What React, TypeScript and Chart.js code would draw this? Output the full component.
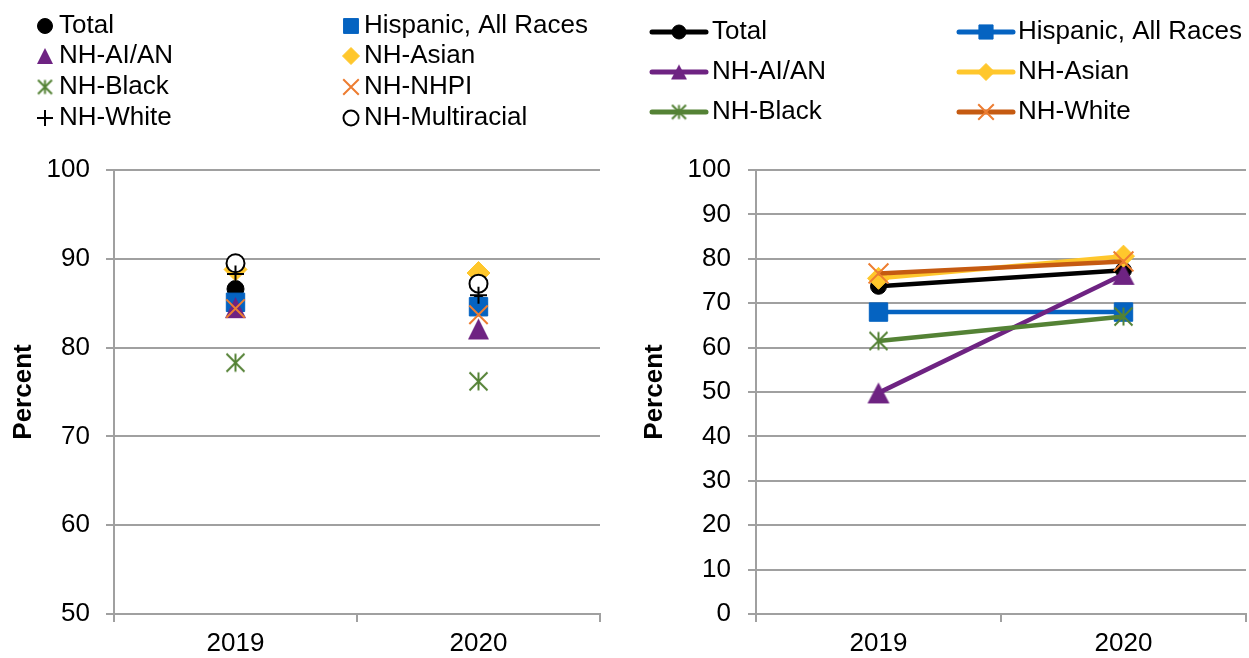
import React, { useEffect, useRef } from 'react';
import { Chart, registerables } from 'chart.js';
import { drawPoint } from 'chart.js/helpers';

Chart.register(...registerables);

// ---------- data ----------
const years = ['2019', '2020'];

// left panel (y axis 50–100)
const leftTotal = [86.6, 84.9];
const leftHispanic = [85.1, 84.6];
const leftAIAN = [84.5, 82.1];
const leftAsian = [88.8, 88.4];
const leftBlack = [78.3, 76.2];
const leftNHPI = [84.4, 83.7];
const leftWhite = [88.3, 85.9];
const leftMulti = [89.5, 87.2];

// right panel (y axis 0–100)
const rightTotal = [73.8, 77.4];
const rightHispanic = [68.0, 68.0];
const rightAIAN = [49.8, 76.5];
const rightAsian = [75.6, 80.6];
const rightBlack = [61.5, 67.0];
const rightWhite = [76.7, 79.4];

const leftLabels = ['Total', 'Hispanic, All Races', 'NH-AI/AN', 'NH-Asian', 'NH-Black', 'NH-NHPI', 'NH-White', 'NH-Multiracial'];
const rightLabels = ['Total', 'Hispanic, All Races', 'NH-AI/AN', 'NH-Asian', 'NH-Black', 'NH-White'];

// ---------- styling ----------
const W = 1249;
const H = 658;
const FONT = "'Liberation Sans', Arial, sans-serif";
const GRID = '#a0a0a0';
const BLACK = '#000000';
const BLUE = '#0563C1';
const PURPLE = '#6E2382';
const GOLD = '#FFC72C';
const GREEN = '#548235';
const ORANGE = '#ED7D31';
const DKORANGE = '#C55A11';

Chart.defaults.font.family = FONT;
Chart.defaults.color = '#000';

function makeAsterisk(size: number, color: string, lw: number) {
  const c = document.createElement('canvas');
  c.width = size;
  c.height = size;
  const g = c.getContext('2d')!;
  g.strokeStyle = color;
  g.lineWidth = lw;
  const m = size / 2;
  const a = size / 2 - 1.5;
  g.beginPath();
  g.moveTo(m, m - a);
  g.lineTo(m, m + a);
  g.moveTo(m - a, m - a);
  g.lineTo(m + a, m + a);
  g.moveTo(m + a, m - a);
  g.lineTo(m - a, m + a);
  g.stroke();
  return c;
}

// triangle whose bounding box is centred on the point (as in the source chart)
function makeTriangle(w: number, h: number, color: string) {
  const c = document.createElement('canvas');
  c.width = w + 2;
  c.height = h + 2;
  const g = c.getContext('2d')!;
  g.fillStyle = color;
  g.beginPath();
  g.moveTo(c.width / 2, 1);
  g.lineTo(c.width - 1, c.height - 1);
  g.lineTo(1, c.height - 1);
  g.closePath();
  g.fill();
  return c;
}

type Mk = { style: any; r: number; bg: string; border: string; bw: number; line?: string };

function legendPlugin(id: string, labels: string[], marks: Mk[], pos: { mx: number; tx: number; y: number }[], lineLen: number) {
  return {
    id,
    afterDraw(chart: any) {
      const ctx = chart.ctx as CanvasRenderingContext2D;
      ctx.save();
      ctx.font = `26px ${FONT}`;
      ctx.textBaseline = 'middle';
      ctx.textAlign = 'left';
      labels.forEach((label, i) => {
        const p = pos[i];
        const m = marks[i];
        if (m.line) {
          ctx.save();
          ctx.strokeStyle = m.line;
          ctx.lineWidth = 5;
          ctx.lineCap = 'round';
          ctx.beginPath();
          ctx.moveTo(p.mx - lineLen / 2, p.y);
          ctx.lineTo(p.mx + lineLen / 2, p.y);
          ctx.stroke();
          ctx.restore();
        }
        ctx.save();
        ctx.fillStyle = m.bg;
        ctx.strokeStyle = m.border;
        ctx.lineWidth = m.bw;
        drawPoint(ctx, { pointStyle: m.style, rotation: 0, radius: m.r, borderWidth: m.bw } as any, p.mx, p.y);
        ctx.restore();
        ctx.fillStyle = '#000';
        ctx.fillText(label, p.tx, p.y);
      });
      ctx.restore();
    },
  };
}

function axes(min: number, yWidth: number, yPad: number, titlePad: number) {
  return {
    x: {
      type: 'category',
      offset: true,
      afterFit: (s: any) => {
        s.height = 44;
        s.paddingLeft = 0;
        s.paddingRight = 0;
      },
      grid: { display: true, drawOnChartArea: false, drawTicks: true, tickLength: 8, offset: true, color: GRID, lineWidth: 2 },
      border: { display: true, color: GRID, width: 2 },
      ticks: { font: { size: 26 }, color: '#000', padding: 6, maxRotation: 0 },
    },
    y: {
      min,
      max: 100,
      afterFit: (s: any) => {
        s.width = yWidth;
      },
      ticks: { stepSize: 10, font: { size: 26 }, color: '#000', padding: yPad },
      grid: { color: GRID, lineWidth: 2, tickLength: 8, drawTicks: true },
      border: { display: true, color: GRID, width: 2 },
      title: { display: true, text: 'Percent', font: { size: 26, weight: 'bold' }, color: '#000', padding: { top: titlePad, bottom: 0 } },
    },
  };
}

function leftConfig(): any {
  const star = makeAsterisk(21, GREEN, 2);
  const starL = makeAsterisk(17, GREEN, 2);
  const tri = makeTriangle(21, 21, PURPLE);
  const triL = makeTriangle(16, 16, PURPLE);
  const values = [leftTotal, leftHispanic, leftAIAN, leftAsian, leftBlack, leftNHPI, leftWhite, leftMulti];
  const marks: Mk[] = [
    { style: 'circle', r: 8.5, bg: BLACK, border: BLACK, bw: 1 },
    { style: 'rect', r: 13, bg: BLUE, border: BLUE, bw: 1 },
    { style: tri, r: 11, bg: PURPLE, border: PURPLE, bw: 1 },
    { style: 'rectRot', r: 11.5, bg: GOLD, border: GOLD, bw: 1 },
    { style: star, r: 10, bg: GREEN, border: GREEN, bw: 2 },
    { style: 'crossRot', r: 13, bg: ORANGE, border: ORANGE, bw: 2 },
    { style: 'cross', r: 8.5, bg: BLACK, border: BLACK, bw: 2 },
    { style: 'circle', r: 9, bg: '#ffffff', border: BLACK, bw: 2 },
  ];
  const legendMarks: Mk[] = [
    { style: 'circle', r: 7.5, bg: BLACK, border: BLACK, bw: 1 },
    { style: 'rect', r: 10.5, bg: BLUE, border: BLUE, bw: 1 },
    { style: triL, r: 8, bg: PURPLE, border: PURPLE, bw: 1 },
    { style: 'rectRot', r: 8.5, bg: GOLD, border: GOLD, bw: 1 },
    { style: starL, r: 8, bg: GREEN, border: GREEN, bw: 2 },
    { style: 'crossRot', r: 11, bg: ORANGE, border: ORANGE, bw: 2 },
    { style: 'cross', r: 8, bg: BLACK, border: BLACK, bw: 2 },
    { style: 'circle', r: 7.5, bg: '#ffffff', border: BLACK, bw: 2 },
  ];
  const drawOrder = [0, 1, 2, 3, 4, 5, 7, 6];
  const rows = [25, 55, 86, 117];
  const pos = leftLabels.map((_, i) => {
    const col = i % 2;
    const row = Math.floor(i / 2);
    return { mx: col === 0 ? 45 : 351, tx: col === 0 ? 59 : 364, y: rows[row] + 1 };
  });
  return {
    type: 'line',
    data: {
      labels: years,
      datasets: leftLabels.map((label, i) => ({
        label,
        data: values[i],
        showLine: false,
        pointStyle: marks[i].style,
        pointRadius: marks[i].r,
        pointHoverRadius: marks[i].r,
        pointBackgroundColor: marks[i].bg,
        pointBorderColor: marks[i].border,
        pointBorderWidth: marks[i].bw,
        borderColor: marks[i].border,
        backgroundColor: marks[i].bg,
        order: leftLabels.length - drawOrder.indexOf(i),
        clip: false,
      })),
    },
    options: {
      responsive: false,
      animation: false,
      devicePixelRatio: 1,
      layout: { autoPadding: false, padding: { top: 170, right: 25, bottom: 0, left: 0 } },
      plugins: { legend: { display: false }, tooltip: { enabled: false } },
      scales: axes(50, 114, 16, 8),
    },
    plugins: [legendPlugin('leftLegend', leftLabels, legendMarks, pos, 0)],
  };
}

function rightConfig(): any {
  const star = makeAsterisk(21, GREEN, 2);
  const starL = makeAsterisk(17, GREEN, 2);
  const tri = makeTriangle(22, 21, PURPLE);
  const triL = makeTriangle(16, 15, PURPLE);
  const values = [rightTotal, rightHispanic, rightAIAN, rightAsian, rightBlack, rightWhite];
  const lines = [BLACK, BLUE, PURPLE, GOLD, GREEN, DKORANGE];
  const marks: Mk[] = [
    { style: 'circle', r: 8, bg: BLACK, border: BLACK, bw: 1 },
    { style: 'rect', r: 13, bg: BLUE, border: BLUE, bw: 1 },
    { style: tri, r: 11, bg: PURPLE, border: PURPLE, bw: 1 },
    { style: 'rectRot', r: 11, bg: GOLD, border: GOLD, bw: 1 },
    { style: star, r: 10, bg: GREEN, border: GREEN, bw: 2 },
    { style: 'crossRot', r: 14, bg: ORANGE, border: ORANGE, bw: 2 },
  ];
  const legendMarks: Mk[] = [
    { style: 'circle', r: 7, bg: BLACK, border: BLACK, bw: 1, line: BLACK },
    { style: 'rect', r: 10, bg: BLUE, border: BLUE, bw: 1, line: BLUE },
    { style: triL, r: 8, bg: PURPLE, border: PURPLE, bw: 1, line: PURPLE },
    { style: 'rectRot', r: 8.5, bg: GOLD, border: GOLD, bw: 1, line: GOLD },
    { style: starL, r: 8, bg: GREEN, border: GREEN, bw: 2, line: GREEN },
    { style: 'crossRot', r: 11, bg: ORANGE, border: ORANGE, bw: 2, line: DKORANGE },
  ];
  const rows = [31, 71, 111];
  const pos = rightLabels.map((_, i) => {
    const col = i % 2;
    const row = Math.floor(i / 2);
    return { mx: col === 0 ? 54 : 361, tx: col === 0 ? 87 : 393, y: rows[row] + 1 };
  });
  return {
    type: 'line',
    data: {
      labels: years,
      datasets: rightLabels.map((label, i) => ({
        label,
        data: values[i],
        borderColor: lines[i],
        backgroundColor: lines[i],
        borderWidth: 4.5,
        tension: 0,
        pointStyle: marks[i].style,
        pointRadius: marks[i].r,
        pointHoverRadius: marks[i].r,
        pointBackgroundColor: marks[i].bg,
        pointBorderColor: marks[i].border,
        pointBorderWidth: marks[i].bw,
        order: rightLabels.length - i,
        clip: false,
      })),
    },
    options: {
      responsive: false,
      animation: false,
      devicePixelRatio: 1,
      layout: { autoPadding: false, padding: { top: 170, right: 3, bottom: 0, left: 0 } },
      plugins: { legend: { display: false }, tooltip: { enabled: false } },
      scales: axes(0, 131, 17, 14),
    },
    plugins: [legendPlugin('rightLegend', rightLabels, legendMarks, pos, 54)],
  };
}

function ChartCanvas({ make, left, width }: { make: () => any; left: number; width: number }) {
  const ref = useRef<HTMLCanvasElement>(null);
  useEffect(() => {
    const chart = new Chart(ref.current as HTMLCanvasElement, make());
    return () => chart.destroy();
  }, []);
  return (
    <canvas
      ref={ref}
      width={width}
      height={H}
      style={{ position: 'absolute', left, top: 0, width, height: H, display: 'block' }}
    />
  );
}

export default function App() {
  return (
    <div style={{ position: 'absolute', left: 0, top: 0, width: W, height: H, background: '#fff', overflow: 'hidden' }}>
      <ChartCanvas make={leftConfig} left={0} width={625} />
      <ChartCanvas make={rightConfig} left={625} width={624} />
    </div>
  );
}
